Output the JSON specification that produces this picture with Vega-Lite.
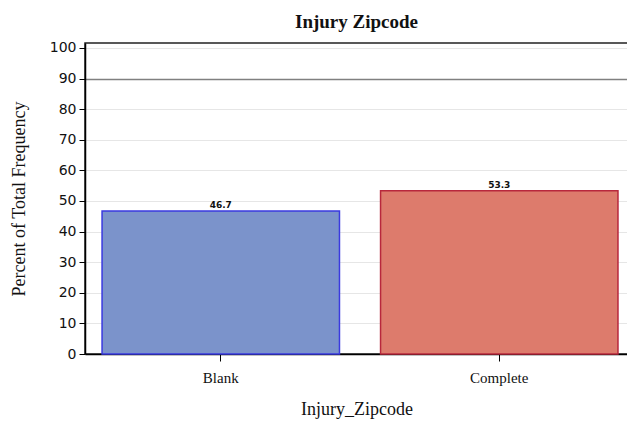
{
  "$schema": "https://vega.github.io/schema/vega-lite/v6.json",
  "width": 543,
  "height": 311,
  "autosize": {"type": "none"},
  "padding": {"left": 85, "top": 43, "right": 0, "bottom": 68},
  "background": "white",
  "config": {"view": {"stroke": "#222", "strokeWidth": 1.5}},
  "title": {"text": "Injury Zipcode", "font": "Liberation Serif", "fontSize": 19, "fontWeight": "bold", "color": "#111", "anchor": "middle", "offset": 9},
  "data": {"values": [
    {"Injury_Zipcode": "Blank", "pct": 46.7},
    {"Injury_Zipcode": "Complete", "pct": 53.3}
  ]},
  "encoding": {
    "x": {"field": "Injury_Zipcode", "type": "nominal",
      "scale": {"paddingInner": 0.1475, "paddingOuter": 0.0486, "align": 0.63},
      "axis": {"title": "Injury_Zipcode", "labelAngle": 0, "labelFont": "Liberation Serif", "labelFontSize": 15, "labelColor": "#111", "labelPadding": 9,
        "titleFont": "Liberation Serif", "titleFontSize": 18, "titleFontWeight": "normal", "titleColor": "#111", "titlePadding": 15,
        "domainColor": "#000", "domainWidth": 1.5, "tickColor": "#000", "tickSize": 7, "grid": false}},
    "y": {"field": "pct", "type": "quantitative",
      "scale": {"domain": [0, 101.6], "nice": false},
      "axis": {"title": "Percent of Total Frequency", "values": [0,10,20,30,40,50,60,70,80,90,100], "labelOverlap": false,
        "labelFont": "DejaVu Sans", "labelFontSize": 14, "labelColor": "#111", "labelPadding": 3,
        "titleFont": "Liberation Serif", "titleFontSize": 18, "titleFontWeight": "normal", "titleColor": "#111", "titlePadding": 21,
        "domainColor": "#000", "domainWidth": 1.5, "tickColor": "#000", "tickSize": 6,
        "grid": true,
        "gridColor": {"condition": {"test": "datum.value === 90", "value": "#808080"}, "value": "#e6e6e6"},
        "gridWidth": {"condition": {"test": "datum.value === 90", "value": 1.5}, "value": 1}}}
  },
  "layer": [
    {
      "mark": {"type": "bar", "strokeWidth": 1.5},
      "encoding": {
        "fill": {"field": "Injury_Zipcode", "type": "nominal", "scale": {"range": ["#7b93cb", "#dd7b6c"]}, "legend": null},
        "stroke": {"field": "Injury_Zipcode", "type": "nominal", "scale": {"range": ["#3a3ae0", "#b8283c"]}, "legend": null}
      }
    },
    {
      "mark": {"type": "text", "dy": -6, "font": "DejaVu Sans", "fontSize": 9, "fontWeight": "bold", "color": "#111"},
      "encoding": {
        "text": {"field": "pct", "type": "quantitative", "format": ".1f"}
      }
    }
  ]
}
